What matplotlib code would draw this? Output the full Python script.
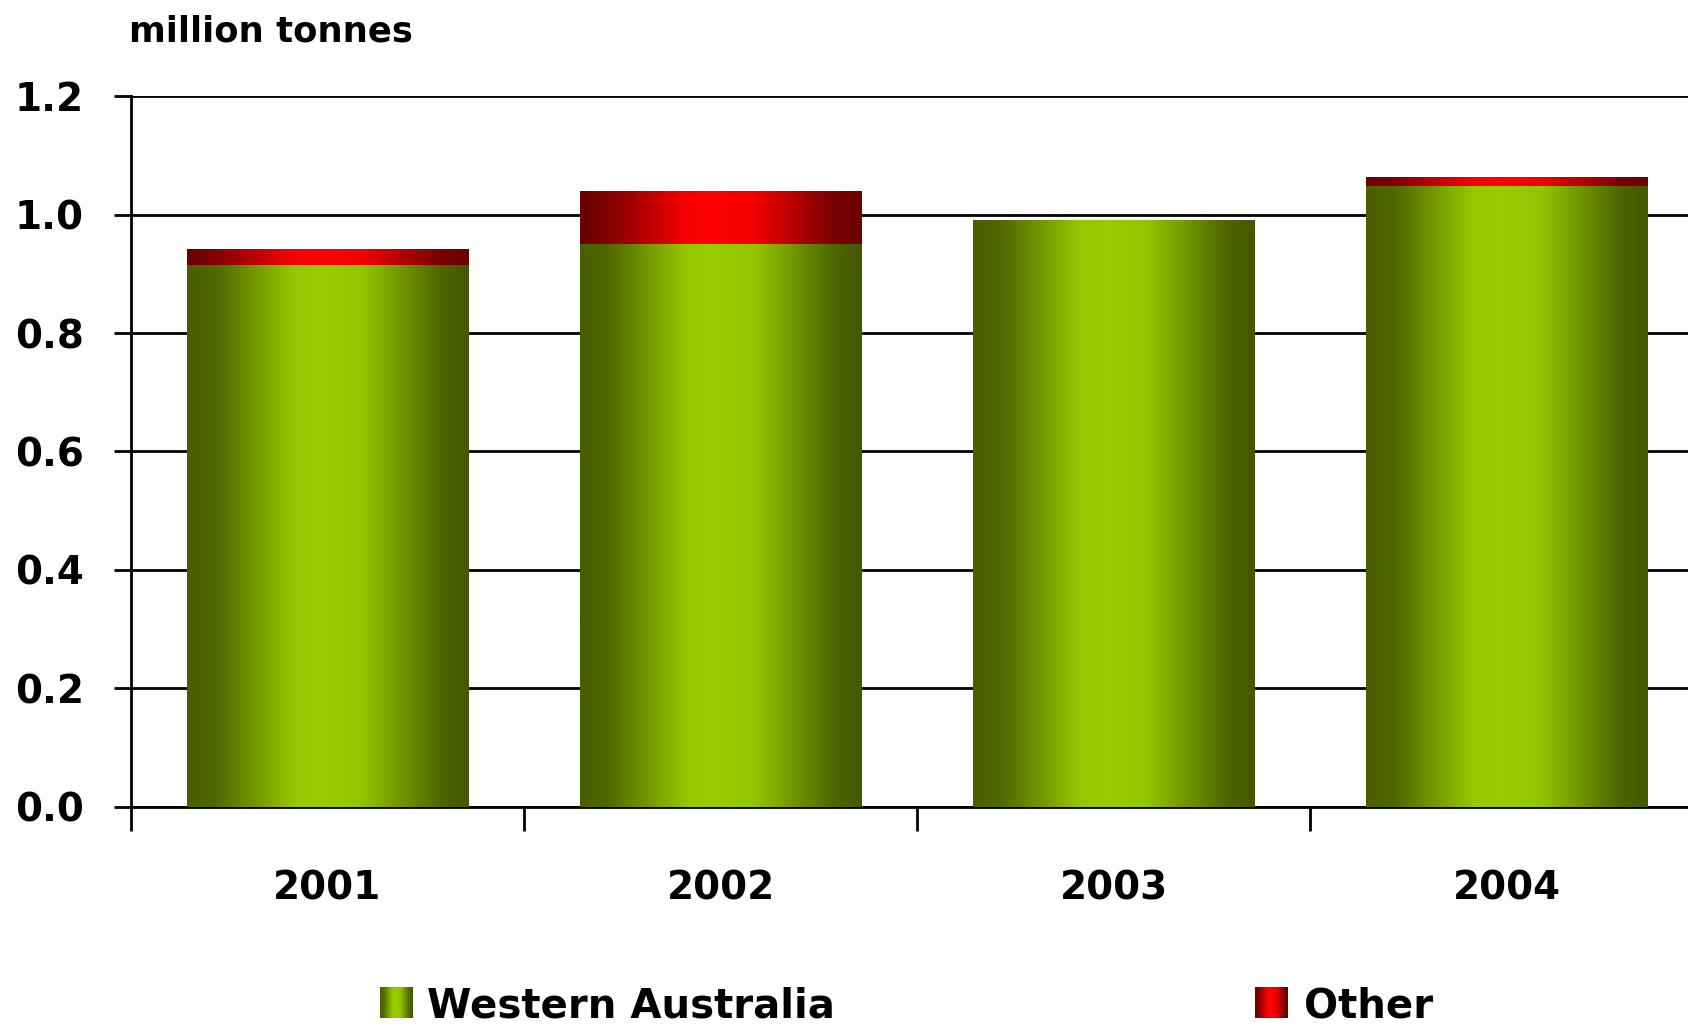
import numpy as np
import matplotlib
matplotlib.use("Agg")
import matplotlib.pyplot as plt
from matplotlib.colors import LinearSegmentedColormap
from matplotlib.ticker import FormatStrFormatter

# data (million tonnes)
years = ["2001", "2002", "2003", "2004"]
western_australia = [0.915, 0.950, 0.990, 1.048]
other = [0.026, 0.089, 0.0, 0.015]
series_names = ["Western Australia", "Other"]

# gradient colours: dark edge -> bright middle -> dark edge
green_cmap = LinearSegmentedColormap.from_list(
    "grn", [(0, "#4a5e00"), (0.1, "#506800"), (0.38, "#96c800"), (0.48, "#99cc00"),
            (0.62, "#93c500"), (0.9, "#4e6600"), (1, "#445800")])
red_cmap = LinearSegmentedColormap.from_list(
    "red", [(0, "#6a0000"), (0.1, "#800000"), (0.38, "#f80000"), (0.48, "#ff0000"),
            (0.62, "#f20000"), (0.9, "#7a0000"), (1, "#6a0000")])
grad = np.linspace(0, 1, 256).reshape(1, -1)

plt.rcParams['font.family'] = ['DejaVu Sans']

fig = plt.figure(figsize=(16.88, 10.26), dpi=100)
ax = fig.add_axes([0.0776, 0.2135, 0.9313, 0.6929])

x = np.arange(len(years))
width = 0.715
bars_wa = ax.bar(x, western_australia, width, color="none", edgecolor="none", zorder=3)
bars_ot = ax.bar(x, other, width, bottom=western_australia, color="none", edgecolor="none", zorder=3)

def fill_gradient(bars, cmap):
    for b in bars:
        bx, by = b.get_x(), b.get_y()
        bw, bh = b.get_width(), b.get_height()
        if bh <= 0:
            continue
        im = ax.imshow(grad, cmap=cmap, aspect="auto", interpolation="bilinear",
                       extent=[bx, bx + bw, by, by + bh], zorder=3)
        im.set_clip_path(b)

fill_gradient(bars_wa, green_cmap)
fill_gradient(bars_ot, red_cmap)

ax.set_xlim(-0.5, len(years) - 0.5)
ax.set_ylim(0, 1.2)
ax.set_yticks(np.arange(0, 1.21, 0.2))
ax.yaxis.set_major_formatter(FormatStrFormatter("%.1f"))
ax.yaxis.grid(True, color="black", lw=2)
ax.set_axisbelow(True)

# year labels at centres, tick marks at category boundaries
ax.set_xticks(x)
ax.set_xticklabels(years)
ax.set_xticks(np.arange(-0.5, len(years)), minor=True)
ax.tick_params(axis="x", which="major", length=0, pad=45, labelsize=28)
ax.tick_params(axis="x", which="minor", length=17, width=2, direction="out")
ax.tick_params(axis="y", length=12, width=2, pad=22, labelsize=28)
for lab in ax.get_xticklabels() + ax.get_yticklabels():
    lab.set_fontweight("bold")

for s in ["top", "right"]:
    ax.spines[s].set_visible(False)
for s in ["left", "bottom"]:
    ax.spines[s].set_linewidth(2)

fig.text(0.0765, 0.969, "million tonnes", fontsize=25.5, fontweight="bold",
         ha="left", va="center")

# legend with gradient swatches
legend_spots = [(0.225, 0.253, green_cmap), (0.7435, 0.7725, red_cmap)]
for name, (px, tx, cmap) in zip(series_names, legend_spots):
    lax = fig.add_axes([px, 0.0078, 0.019, 0.0302])
    lax.imshow(grad, cmap=cmap, aspect="auto")
    lax.set_axis_off()
    fig.text(tx, 0.0085, name, fontsize=29, fontweight="bold", ha="left", va="baseline")

fig.savefig("out.png", dpi=100)
